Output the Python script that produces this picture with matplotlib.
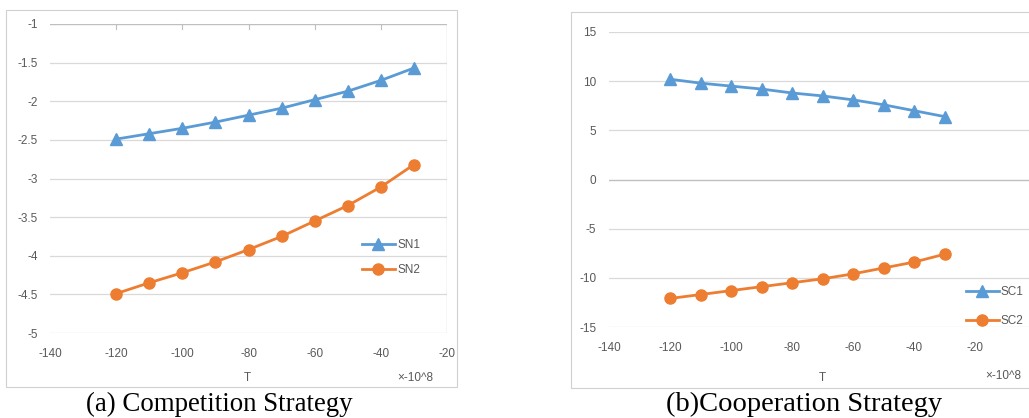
import matplotlib
matplotlib.use("Agg")
import matplotlib.pyplot as plt
from matplotlib.patches import Rectangle

T = [-120, -110, -100, -90, -80, -70, -60, -50, -40, -30]
SN1 = [-2.49, -2.42, -2.35, -2.27, -2.18, -2.09, -1.98, -1.87, -1.73, -1.57]
SN2 = [-4.49, -4.35, -4.22, -4.08, -3.92, -3.75, -3.55, -3.35, -3.11, -2.82]
SC1 = [10.2, 9.8, 9.5, 9.2, 8.8, 8.5, 8.1, 7.6, 7.0, 6.4]
SC2 = [-12.1, -11.7, -11.3, -10.9, -10.5, -10.1, -9.6, -9.0, -8.4, -7.6]

left_yticks = [-1, -1.5, -2, -2.5, -3, -3.5, -4, -4.5, -5]
left_xticks = [-140, -120, -100, -80, -60, -40, -20]
right_yticks = [15, 10, 5, 0, -5, -10, -15]
right_xticks = [-140, -120, -100, -80, -60, -40, -20]

blue = '#5B9BD5'
orange = '#ED7D31'
grid = '#D9D9D9'
lab = '#595959'
fs = 8.5

W, H = 1029, 418
fig = plt.figure(figsize=(W / 100, H / 100), dpi=100)

def px(x0, y0, x1, y1):
    return [x0 / W, 1 - y1 / H, (x1 - x0) / W, (y1 - y0) / H]

# chart frames
for (x0, y0, x1, y1) in [(6, 10, 457, 387), (571, 12, 1040, 388)]:
    fig.add_artist(Rectangle((x0 / W, 1 - y1 / H), (x1 - x0) / W, (y1 - y0) / H,
                             transform=fig.transFigure, fill=False,
                             edgecolor='#D0D0D0', lw=0.8))


def style(ax, yt, xt):
    ax.set_yticks(yt)
    ax.set_xticks(xt)
    ax.set_yticklabels([('%g' % v) for v in yt])
    ax.set_xticklabels([('%g' % v) for v in xt])
    for s in ax.spines.values():
        s.set_visible(False)
    ax.tick_params(axis='both', length=0, labelsize=fs, labelcolor=lab)
    ax.tick_params(axis='x', pad=11)
    ax.tick_params(axis='y', pad=9)
    for v in yt:
        ax.axhline(v, color=grid, lw=0.9, zorder=0)
    for lbl in ax.get_xticklabels() + ax.get_yticklabels():
        lbl.set_family('Liberation Sans')


def legend(ax, anchor, spacing):
    ax.legend(loc='upper left', bbox_to_anchor=anchor, frameon=False,
              fontsize=fs, labelcolor=lab, handlelength=2.8, handletextpad=0.2,
              labelspacing=spacing, borderpad=0, borderaxespad=0,
              prop={'family': 'Liberation Sans', 'size': fs})


# (a) competition
ax1 = fig.add_axes(px(50, 24, 447, 333))
ax1.set_xlim(-140, -20)
ax1.set_ylim(-5, -1)
style(ax1, left_yticks, left_xticks)
ax1.axvline(-20, color='#BFBFBF', lw=0.9, zorder=0)
ax1.axhline(-1, color='#BFBFBF', lw=0.9, zorder=0)
for x in left_xticks[1:-1]:
    ax1.plot([x, x], [-1, -1.06], color='#BFBFBF', lw=0.8, clip_on=False)
ax1.plot(T, SN1, color=blue, marker='^', ms=8, lw=2, label='SN1')
ax1.plot(T, SN2, color=orange, marker='o', ms=8, lw=2, label='SN2')
legend(ax1, (0.785, 0.305), 1.1)
fig.text(247 / W, 1 - 378 / H, 'T', fontsize=fs, color=lab, ha='center', va='center',
         family='Liberation Sans')
fig.text(415 / W, 1 - 378 / H, '×-10^8', fontsize=fs, color=lab, ha='center', va='center',
         family='Liberation Sans')
fig.text(219 / W, 1 - 404 / H, '(a) Competition Strategy', fontsize=19.4,
         family='Liberation Serif', ha='center', va='center')

# (b) cooperation
ax2 = fig.add_axes(px(609, 32, 1036, 327))
ax2.set_xlim(-140, 0)
ax2.set_ylim(-15, 15)
style(ax2, right_yticks, right_xticks)
ax2.axhline(0, color='#BFBFBF', lw=0.9, zorder=0)
ax2.plot(T, SC1, color=blue, marker='^', ms=8, lw=2, label='SC1')
ax2.plot(T, SC2, color=orange, marker='o', ms=8, lw=2, label='SC2')
legend(ax2, (0.835, 0.14), 1.45)
fig.text(822 / W, 1 - 378 / H, 'T', fontsize=fs, color=lab, ha='center', va='center',
         family='Liberation Sans')
fig.text(1003 / W, 1 - 376 / H, '×-10^8', fontsize=fs, color=lab, ha='center', va='center',
         family='Liberation Sans')
fig.text(804 / W, 1 - 404 / H, '(b)Cooperation Strategy', fontsize=20.5,
         family='Liberation Serif', ha='center', va='center')

fig.savefig('out.png', dpi=100)
